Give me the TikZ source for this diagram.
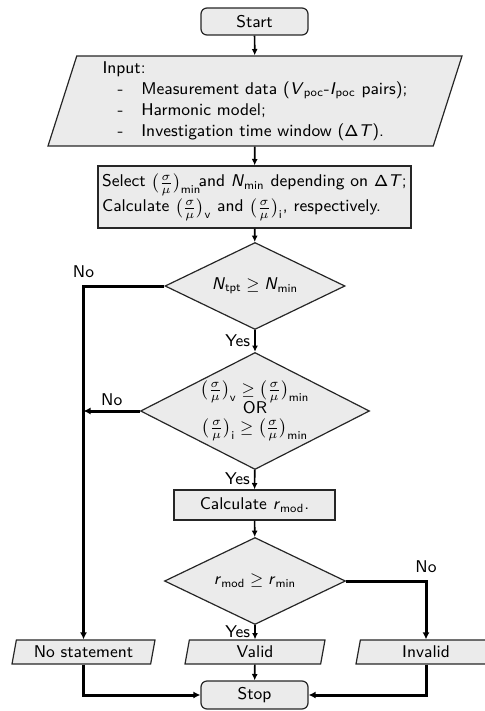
\documentclass[tikz,border=0pt]{standalone}
\usepackage{amsmath}
\usetikzlibrary{shapes.geometric,arrows.meta,calc}
\definecolor{boxfill}{RGB}{235,235,235}
\newcommand{\sv}[1]{\textsf{\textit{#1}}}
\newcommand{\sbt}[1]{\textsf{#1}}
\newcommand{\smu}{\bigl(\tfrac{\sigma}{\mu}\bigr)}
\newcommand{\tightlines}{\lineskiplimit-20pt\relax}
\begin{document}
\begin{tikzpicture}[x=0.5pt,y=-0.5pt,
  font=\sffamily\fontsize{8.5}{10.5}\selectfont,
  shapebase/.style={draw=black!85, line width=0.6pt, fill=boxfill, inner sep=0pt, text=black},
  term/.style={shapebase, rectangle, rounded corners=3pt},
  proc/.style={shapebase, rectangle},
  dec/.style={shapebase, diamond},
  io/.style={shapebase, trapezium, trapezium left angle=70, trapezium right angle=110, trapezium stretches body=true},
  flow/.style={line width=0.85pt, -{Latex[length=3.2pt,width=3pt]}},
  noflow/.style={line width=1.5pt, -{Latex[length=3.5pt,width=3.5pt]}},
  lab/.style={inner sep=1pt, font=\sffamily\fontsize{8.5}{10}\selectfont}
]
\useasboundingbox (0,0) rectangle (484,711);

\node[term, minimum width=53.5pt, minimum height=13.5pt] (start) at (254.5,21.5) {Start};

\node[io, minimum width=207pt, minimum height=45pt, align=left] (input) at (255,101)
  {Input:\\
   \hspace*{7.5pt}-\hspace*{9pt}Measurement data (\sv{V}$_{\sbt{poc}}$-\sv{I}$_{\sbt{poc}}$ pairs);\\
   \hspace*{7.5pt}-\hspace*{9pt}Harmonic model;\\
   \hspace*{7.5pt}-\hspace*{9pt}Investigation time window ($\mathsf{\Delta}$\sv{T}).};

\node[proc, minimum width=156.5pt, minimum height=31pt, align=left,
  font={\sffamily\fontsize{8.5}{12.5}\selectfont\tightlines}] (select) at (254.5,197)
  {Select $\smu_{\sbt{min}}\!$and \sv{N}$_{\sbt{min}}$ depending on $\mathsf{\Delta}$\sv{T};\\
   Calculate $\smu_{\sbt{v}}$ and $\smu_{\sbt{i}}$, respectively.};

\node[dec, minimum width=90pt, minimum height=43.5pt,
  label={center:\sv{N}$_{\sbt{tpt}}\geq{}$\sv{N}$_{\sbt{min}}$}] (d1) at (255,286) {};

\node[dec, minimum width=114.5pt, minimum height=58.5pt,
  label={[align=center, inner sep=0pt,
    font={\sffamily\fontsize{8.5}{9.5}\selectfont\tightlines}]center:$\smu_{\sbt{v}}\geq\smu_{\sbt{min}}$\\ OR\\ $\smu_{\sbt{i}}\geq\smu_{\sbt{min}}$}] (d2) at (255,411) {};

\node[proc, minimum width=80.5pt, minimum height=15pt] (calc) at (254.5,505)
  {Calculate \sv{r}$_{\sbt{mod}}$.};

\node[dec, minimum width=90.5pt, minimum height=43.5pt,
  label={center:\sv{r}$_{\sbt{mod}}\geq{}$\sv{r}$_{\sbt{min}}$}] (d3) at (255,581) {};

\node[io, minimum width=71.5pt, minimum height=12pt] (nostat) at (83.5,652) {No statement};
\node[io, minimum width=70pt, minimum height=12pt] (valid) at (255,652) {Valid};
\node[io, minimum width=70pt, minimum height=12pt] (invalid) at (426,652) {Invalid};

\node[term, minimum width=53.5pt, minimum height=14pt] (stop) at (254.5,695) {Stop};

% main flow
\draw[flow] (start) -- (input);
\draw[flow] (input) -- (select);
\draw[flow] (select) -- (d1);
\draw[flow] (d1) -- node[lab, pos=0.5, anchor=east, xshift=-1pt] {Yes} (d2);
\draw[flow] (d2) -- node[lab, pos=0.45, anchor=east, xshift=-1pt] {Yes} (calc);
\draw[flow] (calc) -- (d3);
\draw[flow] (d3) -- node[lab, pos=0.45, anchor=east, xshift=-1pt] {Yes} (valid);
\draw[flow] (valid) -- (stop);

% No branches
\coordinate (c1) at (nostat.north |- d1.west);
\draw[noflow] (d1.west) -- (c1) -- (nostat.north);
\node[lab, anchor=south] at ($(c1)+(0,-6)$) {No};
\draw[noflow] (d2.west) -- node[lab, above, yshift=1pt] {No} (d2.west -| nostat.north);

\coordinate (c3) at (invalid.north |- d3.east);
\draw[noflow] (d3.east) -- (c3) -- (invalid.north);
\node[lab, anchor=south] at ($(c3)+(0,-6)$) {No};

\draw[noflow] (nostat.south) |- (stop.west);
\draw[noflow] (invalid.south) |- (stop.east);
\end{tikzpicture}
\end{document}
